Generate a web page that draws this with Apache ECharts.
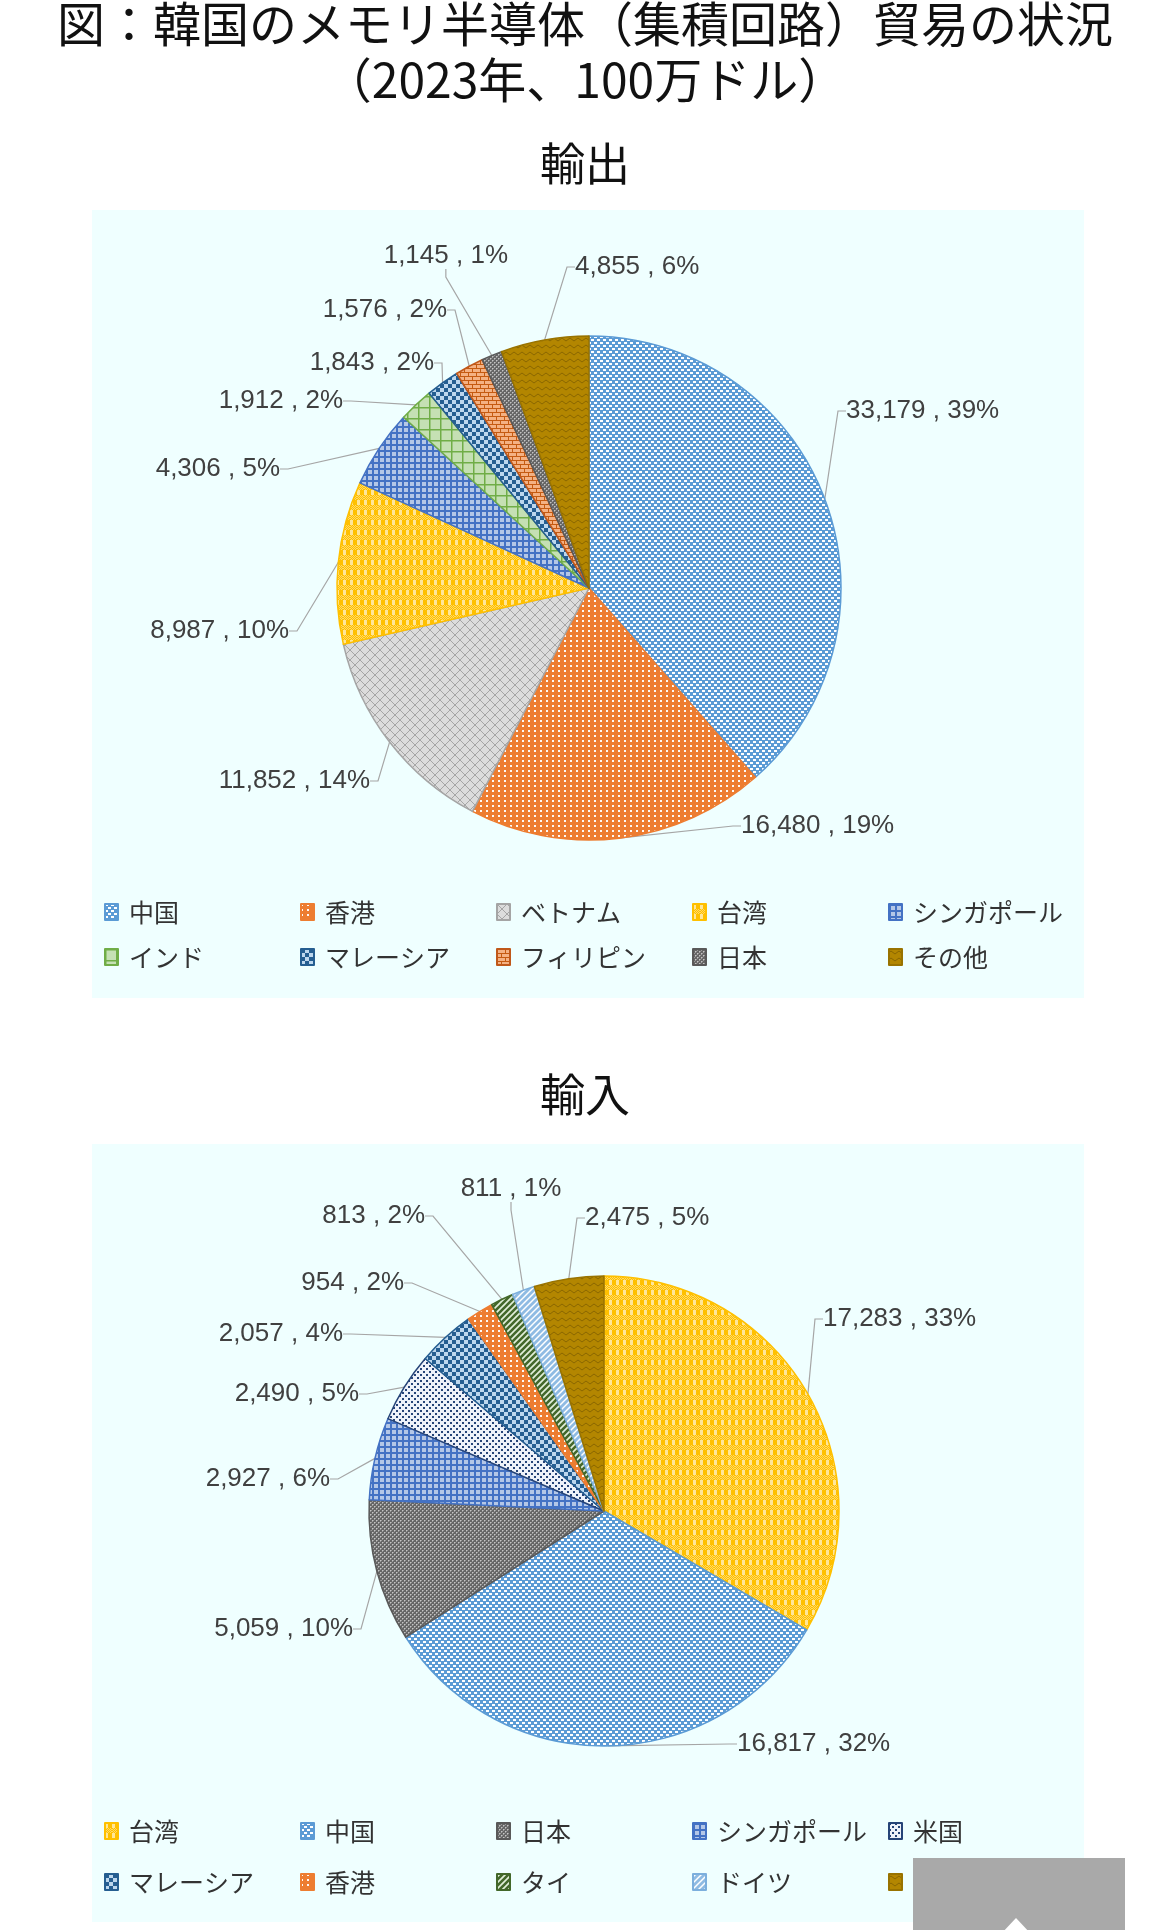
<!DOCTYPE html>
<html><head><meta charset="utf-8">
<script src="https://cdn.jsdelivr.net/npm/echarts@6/dist/echarts.min.js"></script>
<style>html,body{margin:0;padding:0;background:#fff}#c{width:1170px;height:1930px}</style>
</head><body><div id="c"></div>
<script>
// ---- data ----
const titleLine1 = '図：韓国のメモリ半導体（集積回路）貿易の状況';
const titleLine2 = '（2023年、100万ドル）';
const exportTitle = '輸出';
const importTitle = '輸入';
const exportCategories = ['中国','香港','ベトナム','台湾','シンガポール','インド','マレーシア','フィリピン','日本','その他'];
const exportValues = [33179,16480,11852,8987,4306,1912,1843,1576,1145,4855];
const importCategories = ['台湾','中国','日本','シンガポール','米国','マレーシア','香港','タイ','ドイツ','その他'];
const importValues = [17283,16817,5059,2927,2490,2057,954,813,811,2475];

// ---- label placement (layout only, like manually placed labels in the original) ----
const exportLabelAnchors = [[846,411,'left'],[741,826,'left'],[370,781,'right'],[289,631,'right'],[280,469,'right'],[343,401,'right'],[434,363,'right'],[447,310,'right'],[508,256,'right'],[575,267,'left']];
const importLabelAnchors = [[823,1319,'left'],[737,1744,'left'],[353,1629,'right'],[330,1479,'right'],[359,1394,'right'],[343,1334,'right'],[404,1283,'right'],[425,1216,'right'],[511,1189,'center'],[585,1218,'left']];

// ---- pattern styles ----
function mk(w,h,draw){const c=document.createElement('canvas');c.width=w;c.height=h;const g=c.getContext('2d');draw(g);return {image:c,repeat:'repeat'};}
function R(g,col,x,y,w,h){g.fillStyle=col;g.fillRect(x,y,w,h);}
function diagUp(g,col,lw,s){g.strokeStyle=col;g.lineWidth=lw;g.beginPath();for(let k=-1;k<=1;k++){g.moveTo(-1+k*s,s+1);g.lineTo(s+1+k*s,-1);}g.stroke();}
const styles = {
  '中国': {fill: mk(6,6,g=>{R(g,'#5B9BD5',0,0,6,6);R(g,'#FFFFFF',0,0,3,2);R(g,'#FFFFFF',3,3,3,2);}), border:'#5B9BD5'},
  '香港': {fill: mk(6,5,g=>{R(g,'#ED7D31',0,0,6,5);R(g,'rgba(255,255,255,0.95)',0,0,2,2);}), border:'#ED7D31'},
  'ベトナム': {fill: mk(10,10,g=>{R(g,'#DCDCDC',0,0,10,10);g.strokeStyle='#A5A5A5';g.lineWidth=1;g.beginPath();g.moveTo(-1,-1);g.lineTo(11,11);g.moveTo(-1,11);g.lineTo(11,-1);g.stroke();}), border:'#A5A5A5'},
  '台湾': {fill: mk(7,10,g=>{R(g,'#FFC000',0,0,7,10);R(g,'#FFE699',0,0,3,5);for(let y=5;y<10;y++){for(let x=0;x<7;x++){if((x+y)%2===0)R(g,'#FFD966',x,y,1,1);}}}), border:'#FFC000'},
  'シンガポール': {fill: mk(6,6,g=>{R(g,'#B4C7E7',0,0,6,6);R(g,'#4472C4',0,0,6,2);R(g,'#4472C4',0,0,2,6);}), border:'#4472C4'},
  'インド': {fill: mk(11,11,g=>{R(g,'#C5E0B4',0,0,11,11);R(g,'#70AD47',0,0,11,1.5);R(g,'#70AD47',0,0,1.5,11);}), border:'#70AD47'},
  'マレーシア': {fill: mk(8,8,g=>{R(g,'#BDD7EE',0,0,8,8);R(g,'#255E91',0,0,4,4);R(g,'#255E91',4,4,4,4);}), border:'#255E91'},
  'フィリピン': {fill: mk(8,8,g=>{R(g,'#F4B183',0,0,8,8);const c='#C55A11';R(g,c,0,0,8,1);R(g,c,0,4,8,1);R(g,c,0,0,1,4);R(g,c,4,4,1,4);}), border:'#C0581A'},
  '日本': {fill: mk(4,4,g=>{R(g,'#666666',0,0,4,4);R(g,'#C4C4C4',0,0,1,1);R(g,'#C4C4C4',2,2,1,1);R(g,'#999999',1,0,1,1);R(g,'#999999',0,1,1,1);R(g,'#999999',3,2,1,1);R(g,'#999999',2,3,1,1);}), border:'#595959'},
  'その他': {fill: mk(8,7,g=>{R(g,'#B38600',0,0,8,7);g.strokeStyle='#8A6700';g.lineWidth=1;g.beginPath();g.moveTo(0,3.5);g.quadraticCurveTo(2,0.5,4,3.5);g.quadraticCurveTo(6,6.5,8,3.5);g.stroke();}), border:'#997300'},
  '米国': {fill: mk(6,6,g=>{R(g,'#EEF2FA',0,0,6,6);R(g,'#264478',0,0,2,2);R(g,'#264478',3,3,2,2);}), border:'#264478'},
  'タイ': {fill: mk(6,6,g=>{R(g,'#E2EFDA',0,0,6,6);diagUp(g,'#43682B',2.6,6);}), border:'#43682B'},
  'ドイツ': {fill: mk(6,6,g=>{R(g,'#FFFFFF',0,0,6,6);diagUp(g,'#8FBBE3',2.8,6);}), border:'#7CAFDD'}
};

const labelFont = '"Liberation Sans", Arial, sans-serif';
const labelSize = 26;
const cjk = '"Noto Sans CJK JP", "Noto Sans", sans-serif';

function buildData(cats, vals){
  return cats.map((n,i)=>({name:n, value:vals[i], itemStyle:{color:styles[n].fill, borderColor:styles[n].border, borderWidth:1.5}}));
}
function pieSeries(cats, vals, center, radius, anchors){
  return {
    type:'pie', center:center, radius:radius, startAngle:90, clockwise:true,
    percentPrecision:0, avoidLabelOverlap:false, animation:false,
    data: buildData(cats, vals),
    label:{show:true, position:'outside', color:'#404040', fontFamily:labelFont, fontSize:labelSize,
      formatter:p=>p.value.toLocaleString('en-US')+' , '+p.percent+'%'},
    labelLine:{show:true, length:15, length2:8, minTurnAngle:60, lineStyle:{color:'#A6A6A6', width:1.2}},
    labelLayout:function(p){const a=anchors[p.dataIndex];return {x:a[0], y:a[1], align:a[2], verticalAlign:'middle'};},
    emphasis:{disabled:true}
  };
}
function legendRow(names, top){
  return {data:names, left:99, top:top, orient:'horizontal', itemWidth:13, itemHeight:16, itemGap:6,
    selectedMode:false, icon:'rect',
    textStyle:{fontFamily:cjk, fontSize:25, color:'#333333', width:165, lineHeight:30, padding:[0,0,0,6], overflow:'none'}};
}
function titleText(text, top, size, lh){
  return {text:text, left:'center', top:top, padding:0,
    textStyle:{fontFamily:cjk, fontSize:size, fontWeight:'normal', color:'#111', lineHeight:lh}};
}

const chart = echarts.init(document.getElementById('c'), null, {renderer:'canvas'});
chart.setOption({
  backgroundColor:'#FFFFFF',
  animation:false,
  title:[
    titleText(titleLine1, -3, 48, 54),
    titleText(titleLine2, 53, 48, 54),
    titleText(exportTitle, 138, 45, 52),
    titleText(importTitle, 1069, 45, 52)
  ],
  graphic:[
    {type:'rect', z:-10, silent:true, shape:{x:92,y:210,width:992,height:788}, style:{fill:'#EFFFFF'}},
    {type:'rect', z:-10, silent:true, shape:{x:92,y:1144,width:992,height:778}, style:{fill:'#EFFFFF'}},
    {type:'rect', z:100, zlevel:1, silent:true, shape:{x:913,y:1858,width:212,height:80}, style:{fill:'#A9A9A9'}},
    {type:'polygon', z:101, zlevel:1, silent:true, shape:{points:[[1016,1918],[1031,1934],[1001,1934]]}, style:{fill:'#FFFFFF'}}
  ],
  legend:[
    legendRow(exportCategories.slice(0,5), 892),
    legendRow(exportCategories.slice(5), 937),
    legendRow(importCategories.slice(0,5), 1811),
    legendRow(importCategories.slice(5), 1862)
  ],
  series:[
    pieSeries(exportCategories, exportValues, [589,588], 252, exportLabelAnchors),
    pieSeries(importCategories, importValues, [604,1511], 235, importLabelAnchors)
  ]
});
</script></body></html>
